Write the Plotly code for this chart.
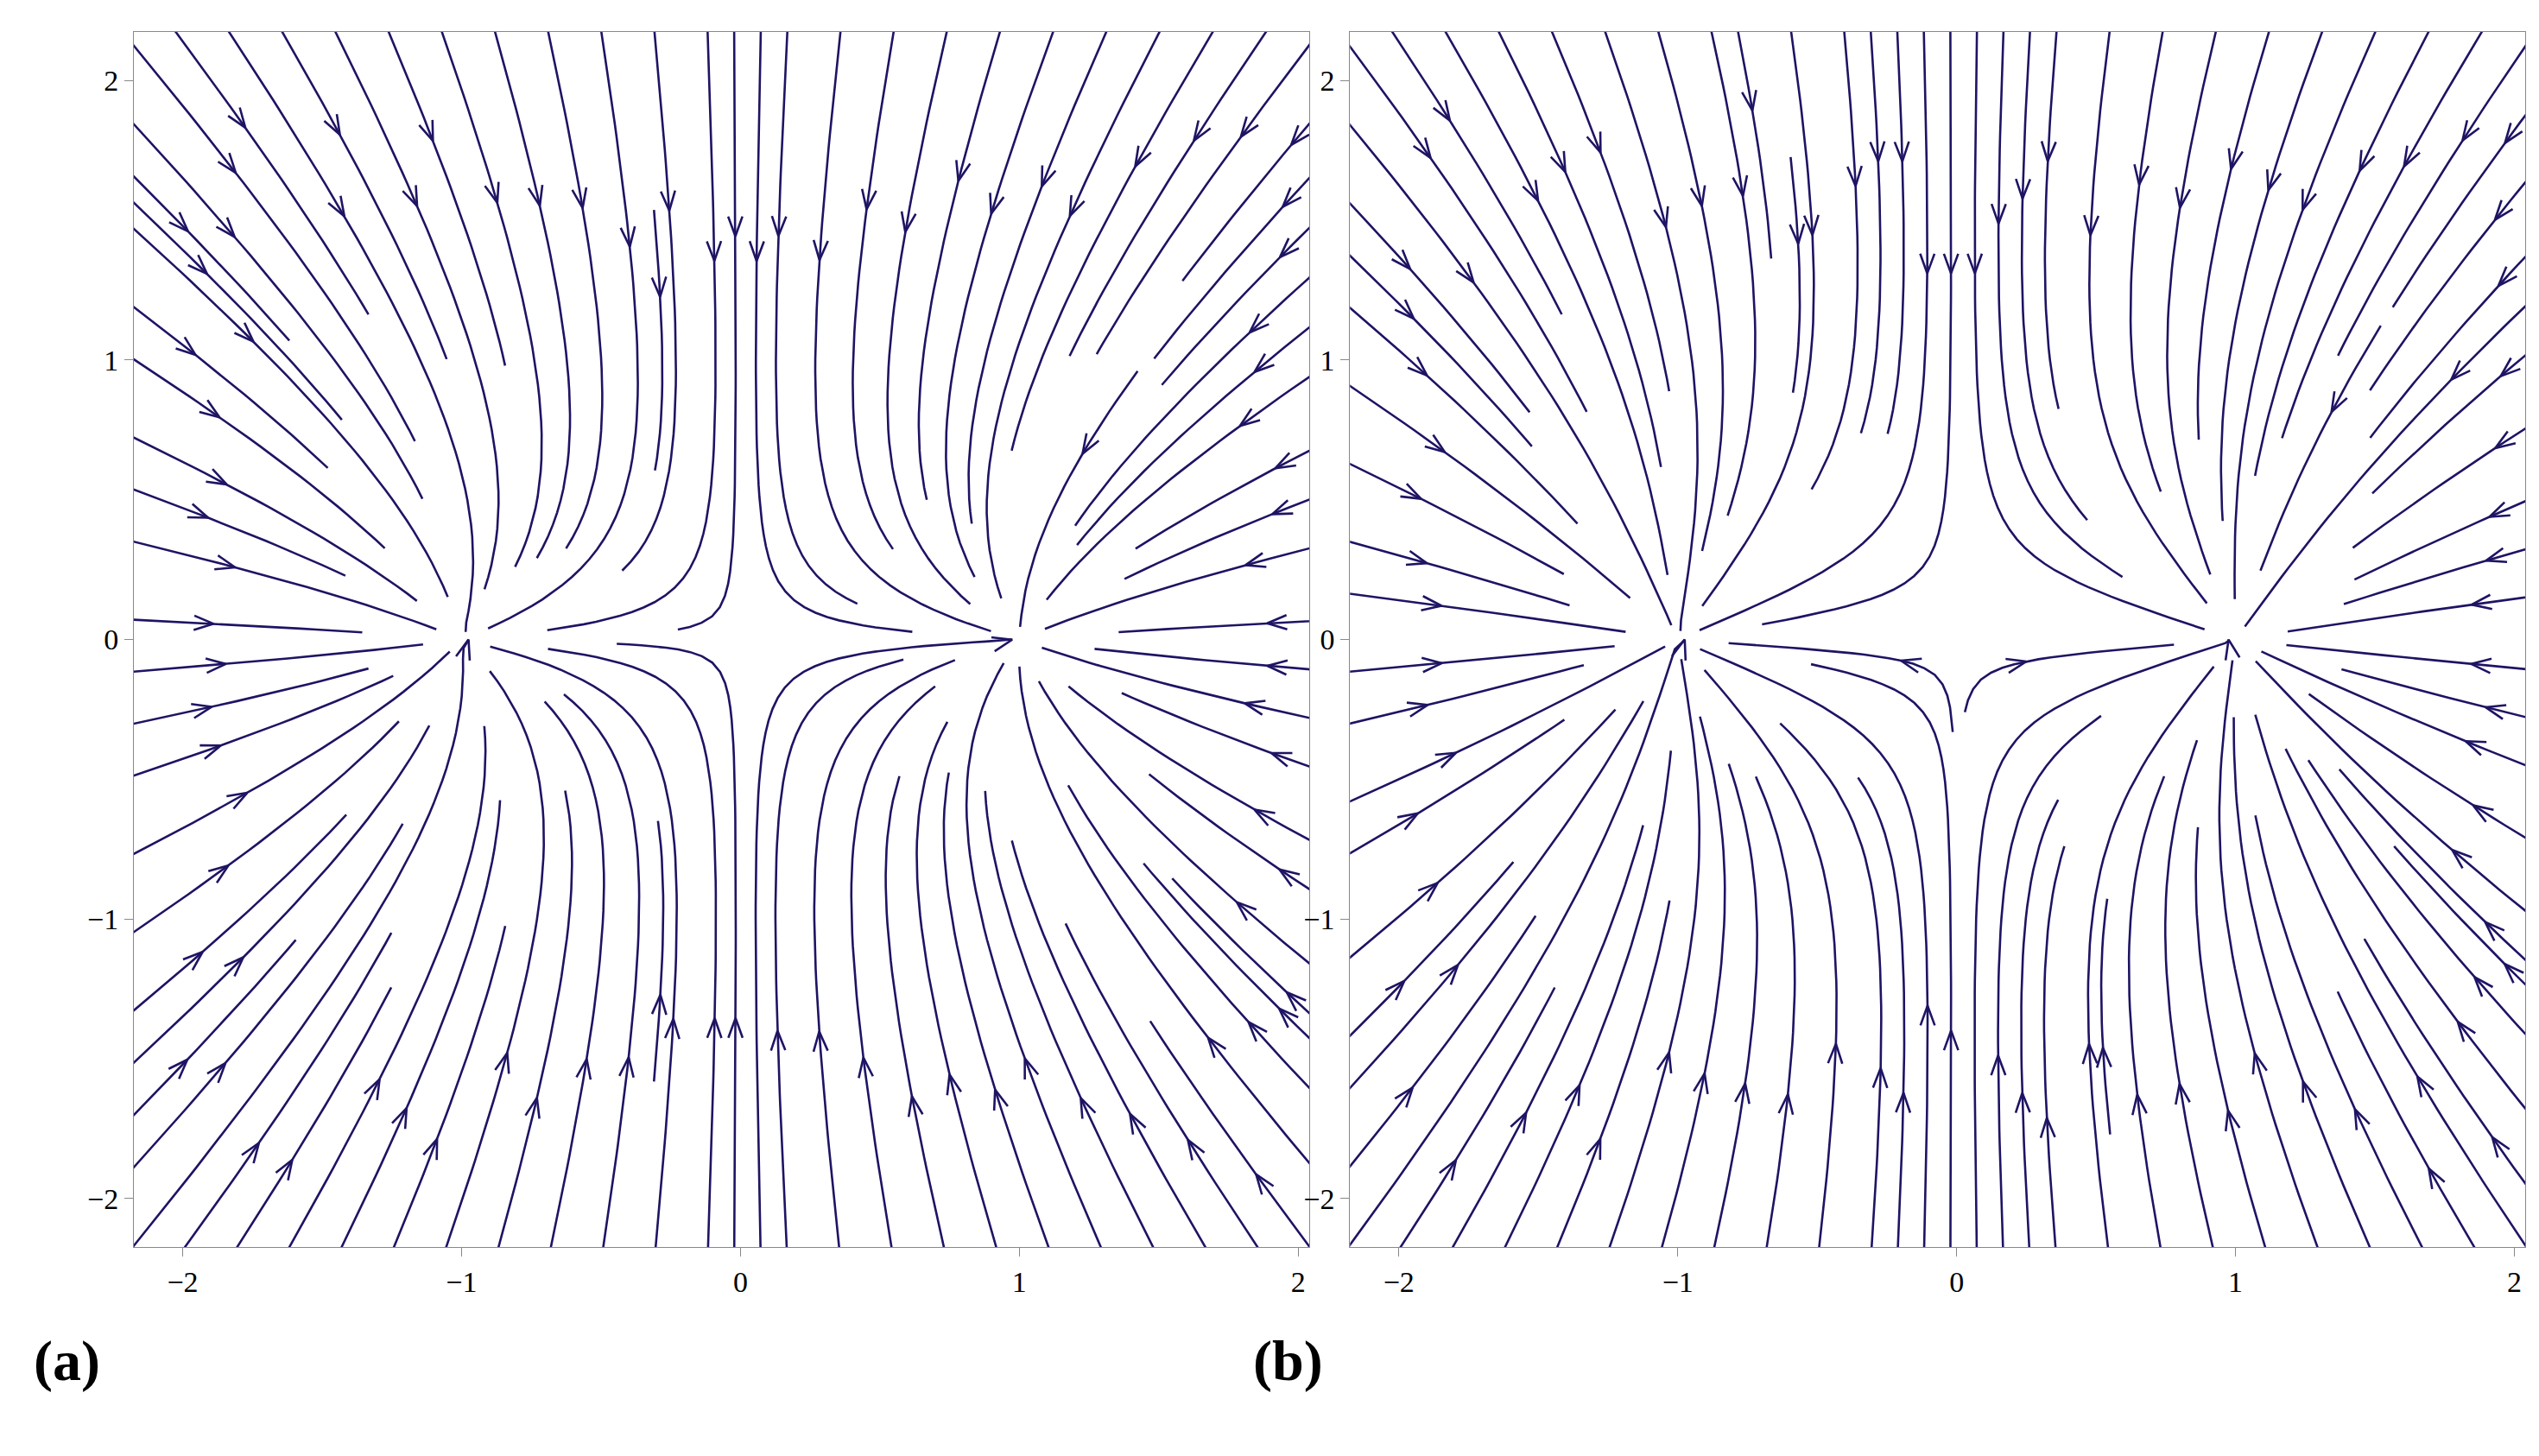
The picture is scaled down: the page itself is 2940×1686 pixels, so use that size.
import numpy as np
import plotly.figure_factory as ff
import plotly.graph_objects as go

# two sinks on the x axis
charge_x = [-1.0, 1.0]
charge_y = [0.0, 0.0]
strength = [-1.0, -1.0]
# field falloff power: (a) 1/r, (b) 1/r^2
power_a = 1
power_b = 2
tick_vals = [-2, -1, 0, 1, 2]
tick_text = ["\u22122", "\u22121", "0", "1", "2"]

xs = np.linspace(-2.2, 2.2, 89)
ys = np.linspace(-2.2, 2.2, 89)
X, Y = np.meshgrid(xs, ys)


def field(p):
    U = np.zeros_like(X)
    V = np.zeros_like(X)
    for cx, cy, q in zip(charge_x, charge_y, strength):
        dx, dy = X - cx, Y - cy
        r = np.sqrt(dx**2 + dy**2) + 1e-3
        U += q * dx / r ** (p + 1)
        V += q * dy / r ** (p + 1)
    # normalise so streamlines advance evenly
    m = np.sqrt(U**2 + V**2) + 1e-9
    return U / m, V / m


fig = go.Figure()
color = "#1e1464"
for i, p in enumerate([power_a, power_b]):
    U, V = field(p)
    sf = ff.create_streamline(xs, ys, U, V, density=1.6, arrow_scale=0.075)
    for tr in sf.data:
        tr.line.color = color
        tr.line.width = 2.6
        tr.xaxis = "x" if i == 0 else "x2"
        tr.yaxis = "y" if i == 0 else "y2"
        tr.hoverinfo = "skip"
        tr.showlegend = False
        fig.add_trace(tr)

axis_common = dict(range=[-2.175, 2.04], tickvals=tick_vals, ticktext=tick_text,
                   showgrid=False, zeroline=False,
                   showline=True, mirror=True, linecolor="#888", ticks="outside",
                   ticklen=10, tickcolor="#888",
                   tickfont=dict(family="Liberation Serif", size=34, color="black"))
yaxis_common = dict(axis_common, range=[-2.175, 2.175])

fig.update_layout(
    width=2940, height=1686, plot_bgcolor="white", paper_bgcolor="white",
    margin=dict(l=0, r=0, t=0, b=0),
    xaxis=dict(axis_common, domain=[0.05, 0.513], anchor="y"),
    yaxis=dict(yaxis_common, domain=[0.148, 0.983], anchor="x"),
    xaxis2=dict(axis_common, domain=[0.529, 0.992], anchor="y2"),
    yaxis2=dict(yaxis_common, domain=[0.148, 0.983], anchor="x2"),
    annotations=[
        dict(text="<b>(a)</b>", x=0.01, y=0.047, xref="paper", yref="paper", showarrow=False,
             xanchor="left", font=dict(family="Liberation Serif", size=66, color="black")),
        dict(text="<b>(b)</b>", x=0.49, y=0.047, xref="paper", yref="paper", showarrow=False,
             xanchor="left", font=dict(family="Liberation Serif", size=66, color="black")),
    ],
)
fig.write_html("out.html")
